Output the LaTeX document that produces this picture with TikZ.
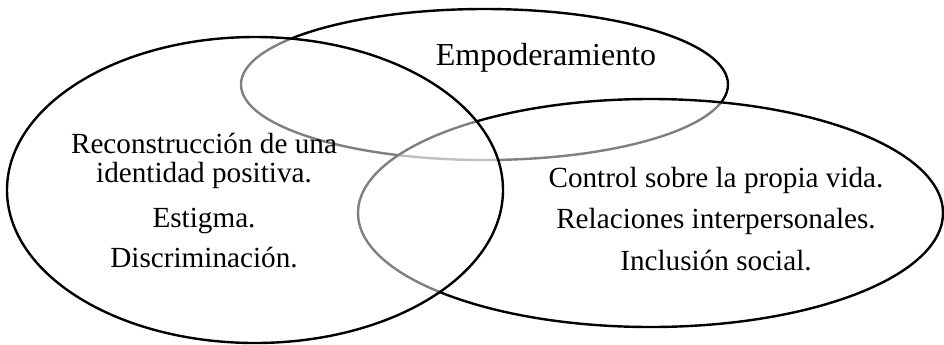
\documentclass[tikz,border=0pt]{standalone}
\usepackage{fontspec}
\setmainfont{Liberation Serif}

\tikzset{
  venn/.style={draw=black, line width=1.2pt, fill=white, fill opacity=0.5},
  lbl/.style={anchor=base, inner sep=0pt, font=\fontsize{14.6}{17}\selectfont},
  ttl/.style={anchor=base, inner sep=0pt, font=\fontsize{16}{19}\selectfont},
}

\begin{document}
\begin{tikzpicture}[x=0.5pt,y=-0.5pt]
\useasboundingbox (0,0) rectangle (944,344);

% centres of the three sets
\coordinate (topc)   at (484.5,84.5);
\coordinate (rightc) at (650.5,213);
\coordinate (leftc)  at (255,190);

% drawn in this order, each one greys the lines under it
\draw[venn] (topc)   ellipse [x radius=243.5, y radius=75.5];
\draw[venn] (rightc) ellipse [x radius=292.5, y radius=114];
\draw[venn] (leftc)  ellipse [x radius=248,   y radius=153];

\node[ttl] (emp) at (546,65) {Empoderamiento};

\node[lbl] (rec)  at (204,153) {Reconstrucción de una};
\node[lbl] (iden) at (204,182) {identidad positiva.};
\node[lbl] (est)  at (204,227) {Estigma.};
\node[lbl] (disc) at (204,267) {Discriminación.};

\node[lbl] (ctrl) at (716,187) {Control sobre la propia vida.};
\node[lbl] (rel)  at (716,228) {Relaciones interpersonales.};
\node[lbl] (incl) at (716,270) {Inclusión social.};

\end{tikzpicture}
\end{document}
